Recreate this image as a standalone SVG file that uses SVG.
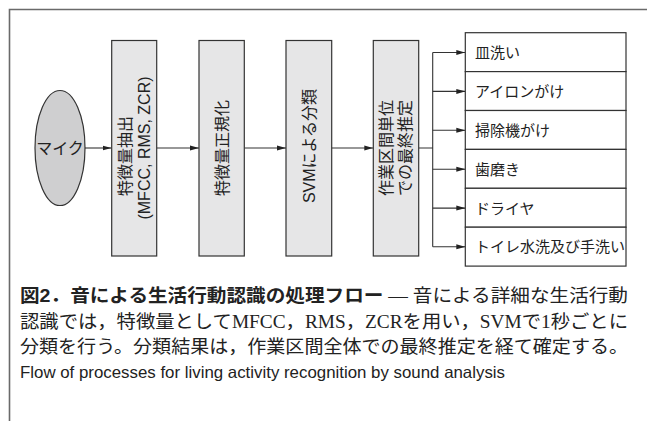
<svg xmlns="http://www.w3.org/2000/svg" width="647" height="421" viewBox="0 0 647 421">
<style>
.frame{fill:none;stroke:#6a6a6a;stroke-width:1.6}
.proc{fill:#e6e6e7;stroke:#333;stroke-width:1.2}
.mic{fill:#cfcfd0;stroke:#333;stroke-width:1.2}
.item{fill:#fff;stroke:#333;stroke-width:1.2}
.lbl{font-family:"Liberation Sans","Noto Sans CJK JP",sans-serif;font-size:16px;fill:#222}
.it{font-size:15px}
.vt{text-anchor:middle;dominant-baseline:central}
.conn{fill:none;stroke:#333;stroke-width:1.1}
.capb{font-family:"Liberation Sans","Noto Sans CJK JP",sans-serif;font-weight:bold;fill:#222}
.caps{font-family:"Liberation Serif","Noto Sans CJK JP",serif;fill:#222}
.en{font-family:"Liberation Sans","Noto Sans CJK JP",sans-serif;font-size:16.5px;fill:#222}
</style>
<defs>
<marker id="ah" markerWidth="9" markerHeight="6" refX="9" refY="3" orient="auto" markerUnits="userSpaceOnUse">
<path d="M0,0.5 L9,3 L0,5.5 Z" fill="#222"/>
</marker>
</defs>
<path class="frame" d="M9.5,421 V9.5 H647"/>
<g id="connectors">
<line class="conn" x1="85" y1="148" x2="111.5" y2="148" marker-end="url(#ah)"/>
<line class="conn" x1="157" y1="148" x2="199" y2="148" marker-end="url(#ah)"/>
<line class="conn" x1="244.5" y1="148" x2="286" y2="148" marker-end="url(#ah)"/>
<line class="conn" x1="331.5" y1="148" x2="373.3" y2="148" marker-end="url(#ah)"/>
<path class="conn" d="M418.7,148 H432.7 M432.7,52.5 V246.8"/>
<line class="conn" x1="432.7" y1="52.5" x2="465.3" y2="52.5" marker-end="url(#ah)"/>
<line class="conn" x1="432.7" y1="91.4" x2="465.3" y2="91.4" marker-end="url(#ah)"/>
<line class="conn" x1="432.7" y1="130.3" x2="465.3" y2="130.3" marker-end="url(#ah)"/>
<line class="conn" x1="432.7" y1="169.2" x2="465.3" y2="169.2" marker-end="url(#ah)"/>
<line class="conn" x1="432.7" y1="208.1" x2="465.3" y2="208.1" marker-end="url(#ah)"/>
<line class="conn" x1="432.7" y1="246.8" x2="465.3" y2="246.8" marker-end="url(#ah)"/>
</g>
<g id="mic">
<ellipse class="mic" cx="60" cy="148" rx="25" ry="57.5"/>
<text class="lbl" x="60" y="148" text-anchor="middle" dominant-baseline="central">マイク</text>
</g>
<g id="feature">
<rect class="proc" x="111.7" y="40.5" width="45" height="215.5"/>
<text class="lbl vt" transform="translate(125.5,156) rotate(-90)">特徴量抽出</text>
<text class="lbl vt" transform="translate(144.5,148) rotate(-90)">(MFCC, RMS, ZCR)</text>
</g>
<g id="normalize">
<rect class="proc" x="199" y="40.5" width="45.3" height="215.5"/>
<text class="lbl vt" transform="translate(222,148) rotate(-90)">特徴量正規化</text>
</g>
<g id="svm">
<rect class="proc" x="286" y="40.5" width="45.7" height="215.5"/>
<text class="lbl vt" transform="translate(309,146) rotate(-90)" font-size="16.5">SVMによる分類</text>
</g>
<g id="final">
<rect class="proc" x="373.3" y="40.5" width="45.4" height="215.5"/>
<text class="lbl vt" transform="translate(386.5,148) rotate(-90)">作業区間単位</text>
<text class="lbl vt" transform="translate(405.5,148) rotate(-90)">での最終推定</text>
</g>
<g id="dish">
<rect class="item" x="465.3" y="32.7" width="160.7" height="38.9"/>
<text class="lbl it" x="475" y="52.5" dominant-baseline="central">皿洗い</text>
</g>
<g id="iron">
<rect class="item" x="465.3" y="71.6" width="160.7" height="38.9"/>
<text class="lbl it" x="475" y="91.4" dominant-baseline="central">アイロンがけ</text>
</g>
<g id="vacuum">
<rect class="item" x="465.3" y="110.5" width="160.7" height="38.9"/>
<text class="lbl it" x="475" y="130.3" dominant-baseline="central">掃除機がけ</text>
</g>
<g id="teeth">
<rect class="item" x="465.3" y="149.4" width="160.7" height="38.9"/>
<text class="lbl it" x="475" y="169.2" dominant-baseline="central">歯磨き</text>
</g>
<g id="dryer">
<rect class="item" x="465.3" y="188.3" width="160.7" height="38.9"/>
<text class="lbl it" x="475" y="208.1" dominant-baseline="central">ドライヤ</text>
</g>
<g id="toilet">
<rect class="item" x="465.3" y="227.2" width="160.7" height="38.9"/>
<text class="lbl it" x="475" y="246.8" dominant-baseline="central">トイレ水洗及び手洗い</text>
</g>
<g id="caption">
<text x="20" y="302" font-size="18.5" textLength="608" lengthAdjust="spacingAndGlyphs"><tspan class="capb">図2．音による生活行動認識の処理フロー</tspan><tspan class="caps"> — 音による詳細な生活行動</tspan></text>
<text class="caps" x="20" y="327.5" font-size="18.5" textLength="608" lengthAdjust="spacingAndGlyphs">認識では，特徴量としてMFCC，RMS，ZCRを用い，SVMで1秒ごとに</text>
<text class="caps" x="20" y="352.5" font-size="18.5" textLength="608" lengthAdjust="spacingAndGlyphs">分類を行う。分類結果は，作業区間全体での最終推定を経て確定する。</text>
<text class="en" x="20" y="378" textLength="485" lengthAdjust="spacingAndGlyphs">Flow of processes for living activity recognition by sound analysis</text>
</g>
</svg>
